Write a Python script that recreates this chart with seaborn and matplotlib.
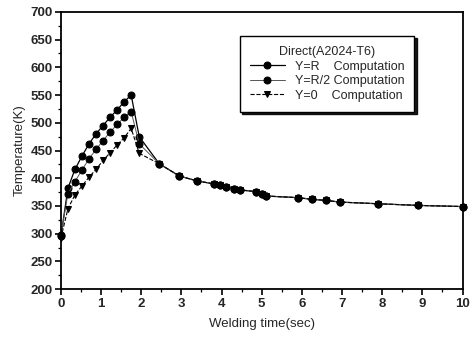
import matplotlib
matplotlib.use("Agg")
import matplotlib.pyplot as plt
from matplotlib.ticker import MultipleLocator
import seaborn as sns
import pandas as pd

# ---- data ----
t_rise = [0, 0.175, 0.35, 0.525, 0.7, 0.875, 1.05, 1.225, 1.4, 1.575, 1.75, 1.95]
t_tail = [2.45, 2.95, 3.4, 3.8, 3.95, 4.1, 4.3, 4.45, 4.85, 5.0, 5.1,
          5.9, 6.25, 6.6, 6.95, 7.9, 8.9, 10.0]
temp_tail = [426, 404, 395, 390, 387, 384, 381, 379, 376, 371, 368,
             365, 362, 360, 357, 354, 351, 349]

temp_r = [295, 382, 416, 440, 462, 480, 495, 510, 523, 538, 550, 475]
temp_r2 = [298, 372, 394, 415, 435, 452, 468, 483, 497, 510, 520, 462]
temp_0 = [292, 345, 370, 386, 402, 416, 432, 446, 460, 473, 490, 445]

labels = ["Y=R    Computation", "Y=R/2 Computation", "Y=0    Computation"]
series = [temp_r, temp_r2, temp_0]

rows = []
for lab, vals in zip(labels, series):
    for t, v in zip(t_rise + t_tail, vals + temp_tail):
        rows.append({"time": t, "temp": v, "case": lab})
df = pd.DataFrame(rows)

sns.set_style("ticks")
plt.rcParams["font.family"] = ["Liberation Sans", "DejaVu Sans"]

fig = plt.figure(figsize=(4.72, 3.39), dpi=100)
ax = fig.add_axes([0.129, 0.147, 0.851, 0.818])

styles = {
    labels[0]: dict(marker="o", color="black", linestyle="-", lw=0.9),
    labels[1]: dict(marker="o", color="#555555", linestyle="-", lw=0.7),
    labels[2]: dict(marker="v", color="black", linestyle="--", lw=0.8),
}
for lab in labels:
    st = styles[lab]
    sns.lineplot(data=df[df["case"] == lab], x="time", y="temp", ax=ax,
                 color=st["color"], linestyle=st["linestyle"], linewidth=st["lw"],
                 marker=st["marker"], markersize=5, markerfacecolor="black",
                 markeredgecolor="black", label=lab, sort=False, clip_on=False)

ax.set_xlim(0, 10)
ax.set_ylim(200, 700)
ax.xaxis.set_major_locator(MultipleLocator(1))
ax.xaxis.set_minor_locator(MultipleLocator(0.5))
ax.yaxis.set_major_locator(MultipleLocator(50))
ax.yaxis.set_minor_locator(MultipleLocator(25))
ax.tick_params(which="major", length=4, width=1.2, labelsize=9.5, pad=2, color="black")
ax.tick_params(which="minor", length=2, width=0.9, color="black")
for lbl in ax.get_xticklabels() + ax.get_yticklabels():
    lbl.set_fontweight("bold")
for s in ax.spines.values():
    s.set_linewidth(1.3)
    s.set_color("black")

ax.set_xlabel("Welding time(sec)", fontsize=9.5, labelpad=6)
ax.set_ylabel("Temperature(K)", fontsize=9.5, labelpad=3)

leg = ax.legend(title="Direct(A2024-T6)", loc="upper left",
                bbox_to_anchor=(0.43, 0.935), fontsize=9, title_fontsize=9,
                frameon=True, fancybox=False,
                shadow={"ox": 1.5, "oy": -1.5, "shade": 1.0, "alpha": 0.9},
                edgecolor="black", handlelength=2.8, borderpad=0.8, labelspacing=0.2)
leg.get_frame().set_linewidth(1.0)

fig.savefig("out.png", dpi=100)
